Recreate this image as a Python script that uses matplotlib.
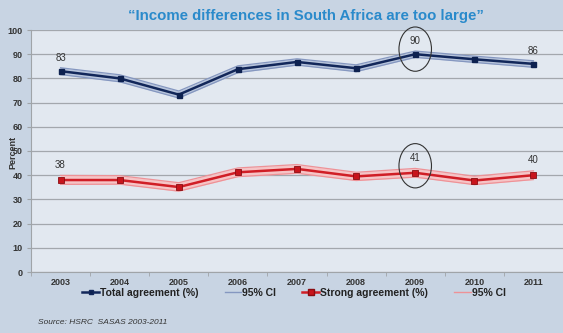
import matplotlib
matplotlib.use("Agg")
import matplotlib.pyplot as plt
from matplotlib.patches import Ellipse
from matplotlib.lines import Line2D
import numpy as np

plt.rcParams['font.family'] = ['Liberation Sans', 'DejaVu Sans']

years = ['2003', '2004', '2005', '2006', '2007', '2008', '2009', '2010', '2011']
total = [83.0, 80.0, 73.3, 83.8, 86.8, 84.2, 90.0, 87.9, 86.0]
total_lo = [81.6, 78.6, 71.9, 82.4, 85.5, 82.8, 88.7, 86.6, 84.6]
total_hi = [84.4, 81.5, 74.8, 85.2, 88.1, 85.6, 91.3, 89.2, 87.3]
strong = [38.0, 38.0, 35.1, 41.2, 42.6, 39.5, 41.0, 37.8, 40.0]
strong_lo = [36.2, 36.3, 33.4, 39.4, 40.8, 37.8, 39.2, 36.1, 38.2]
strong_hi = [39.9, 39.8, 36.9, 43.0, 44.4, 41.2, 42.8, 39.6, 41.8]
labelled = [0, 6, 8]
circled = 6

bg = '#c8d4e3'
fig = plt.figure(figsize=(5.63, 3.33), dpi=100, facecolor=bg)
ax = fig.add_axes([31 / 563, 1 - 272 / 333, 1 - 31 / 563, 242 / 333])
ax.set_facecolor('#e2e8f0')

x = np.arange(len(years))

# grid
ax.set_ylim(0, 100)
ax.set_xlim(-0.5, len(years) - 0.5)
ax.set_yticks(np.arange(0, 101, 10))
ax.yaxis.grid(True, color='#a3a7ad', linewidth=0.9)
ax.set_axisbelow(True)

# confidence bands
ax.fill_between(x, total_lo, total_hi, color='#b8c5dc', linewidth=0, zorder=2)
ax.plot(x, total_lo, color='#8597c0', linewidth=0.9, zorder=2)
ax.plot(x, total_hi, color='#8597c0', linewidth=0.9, zorder=2)
ax.fill_between(x, strong_lo, strong_hi, color='#f6c4c6', linewidth=0, zorder=2)
ax.plot(x, strong_lo, color='#ee9297', linewidth=0.9, zorder=2)
ax.plot(x, strong_hi, color='#ee9297', linewidth=0.9, zorder=2)

# main series
ax.plot(x, total, color='#12275a', linewidth=1.8, marker='s', markersize=3.6,
        markerfacecolor='#0d2150', markeredgecolor='#0d2150', zorder=3)
ax.plot(x, strong, color='#d01e26', linewidth=1.8, marker='s', markersize=4.8,
        markerfacecolor='#c8141c', markeredgecolor='#8a0d12', markeredgewidth=0.6,
        zorder=3)

# value labels
for i in labelled:
    ax.text(x[i], total[i] + 5.5, f"{total[i]:.0f}", ha='center', va='center',
            fontsize=7, color='#333333', zorder=4)
    ax.text(x[i], strong[i] + 6.2, f"{strong[i]:.0f}", ha='center', va='center',
            fontsize=7, color='#333333', zorder=4)

# circles around the 2009 values
for cy in (total[circled] + 2.1, strong[circled] + 2.9):
    ax.add_patch(Ellipse((x[circled], cy), 0.55, 18.3, fill=False,
                         edgecolor='#333333', linewidth=0.8, clip_on=False, zorder=4))

# axes styling
for s in ('top', 'right'):
    ax.spines[s].set_visible(False)
ax.spines['left'].set_color('#a0a4a8')
ax.spines['bottom'].set_color('#a0a4a8')
ax.set_xticks(x)
ax.set_xticklabels(years)
ax.set_xticks(np.arange(-0.5, len(years), 1.0), minor=True)
ax.tick_params(axis='x', which='major', length=0, pad=4, labelsize=6.5,
               labelcolor='#333333')
ax.tick_params(axis='x', which='minor', length=3, color='#a0a4a8')
ax.tick_params(axis='y', length=3, color='#a0a4a8', labelsize=6.5,
               labelcolor='#333333', pad=3)
for lab in ax.get_xticklabels() + ax.get_yticklabels():
    lab.set_fontweight('bold')

fig.text(13 / 563, 1 - 152 / 333, 'Percent', rotation=90, ha='center', va='center',
         fontsize=6.5, fontweight='bold', color='#333333')

fig.text(306 / 563, 1 - 16 / 333, '\u201cIncome differences in South Africa are too large\u201d',
         ha='center', va='center', fontsize=10.8, fontweight='bold', color='#2a8acb')

handles = [
    Line2D([], [], color='#12275a', linewidth=1.8, marker='s', markersize=3,
           markerfacecolor='#0d2150'),
    Line2D([], [], color='#8597c0', linewidth=1.0),
    Line2D([], [], color='#d01e26', linewidth=1.8, marker='s', markersize=4,
           markerfacecolor='#c8141c', markeredgecolor='#8a0d12'),
    Line2D([], [], color='#ee9297', linewidth=1.0),
]
names = ['Total agreement (%)', '95% CI', 'Strong agreement (%)', '95% CI']
leg = fig.legend(handles, names, loc='center', bbox_to_anchor=(294 / 563, 1 - 293 / 333),
                 ncol=4, frameon=False, handlelength=1.6, handletextpad=0.1,
                 columnspacing=2.5, prop={'size': 7.5, 'weight': 'bold'})
for t in leg.get_texts():
    t.set_color('#222222')

fig.text(38 / 563, 1 - 323 / 333, 'Source: HSRC  SASAS 2003-2011', ha='left', va='center',
         fontsize=6, style='italic', color='#333333')

fig.savefig('out.png', dpi=100, facecolor=bg)
